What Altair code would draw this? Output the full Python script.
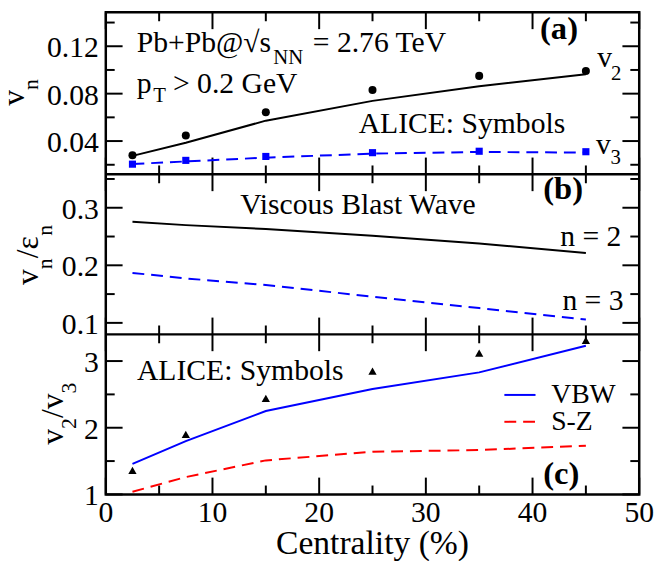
import altair as alt
import pandas as pd

# ---------------- data ----------------
cent = [2.5, 7.5, 15, 25, 35, 45]
alice_v2 = [0.0281, 0.0447, 0.0644, 0.0831, 0.0950, 0.0992]
alice_v3 = [0.0205, 0.0237, 0.0270, 0.0302, 0.0314, 0.0310]
vbw_v2 = [0.0275, 0.0386, 0.0572, 0.0739, 0.0862, 0.0964]
vbw_v3 = [0.0206, 0.0228, 0.0260, 0.0294, 0.0308, 0.0303]
ratio_n2 = [0.2755, 0.2698, 0.2630, 0.2515, 0.2380, 0.2215]
ratio_n3 = [0.1868, 0.1772, 0.1657, 0.1456, 0.1257, 0.1057]
alice_v2v3 = [1.36, 1.90, 2.44, 2.85, 3.12, 3.31]
vbw_v2v3 = [1.458, 1.80, 2.25, 2.58, 2.83, 3.23]
sz_v2v3 = [1.04, 1.26, 1.51, 1.64, 1.665, 1.73]

x_major = [0, 10, 20, 30, 40, 50]
x_minor = [5, 15, 25, 35, 45]
x_labels = ["0", "10", "20", "30", "40", "50"]
a_major = [0.04, 0.08, 0.12]
a_labels = ["0.04", "0.08", "0.12"]
a_minor = [0.02, 0.06, 0.10, 0.14]
b_major = [0.1, 0.2, 0.3]
b_labels = ["0.1", "0.2", "0.3"]
b_minor = [0.15, 0.25, 0.35]
c_major = [1, 2, 3]
c_labels = ["1", "2", "3"]
c_minor = [1.5, 2.5]

# ---------------- layout ----------------
SERIF = "Liberation Serif"
W = 540
HA, HB, HC = 164, 162, 162
H = HA + HB + HC
MAJ, MIN = 17, 9

XD = [0, 50]
AD = [0.0119, 0.1486]
BD = [0.08, 0.358]
CD = [1, 3.4]
xs = alt.Scale(domain=XD, nice=False, zero=False)
sa = alt.Scale(domain=AD, range=[HA, 0], nice=False, zero=False)
sb = alt.Scale(domain=BD, range=[HA + HB, HA], nice=False, zero=False)
sc = alt.Scale(domain=CD, range=[H, HA + HB], nice=False, zero=False)

PX_X = W / (XD[1] - XD[0])
PX_A = HA / (AD[1] - AD[0])
PX_B = HB / (BD[1] - BD[0])
PX_C = HC / (CD[1] - CD[0])

NOX = dict(scale=xs, axis=None)
ONE = pd.DataFrame({"k": [0]})

layers = []

panels = ((a_major, a_minor, a_labels, sa, AD, PX_A),
          (b_major, b_minor, b_labels, sb, BD, PX_B),
          (c_major, c_minor, c_labels, sc, CD, PX_C))

# ---------------- ticks (rules) and y tick labels (text) ----------------
for maj, mnr, labs, scale, dom, ppu in panels:
    # y ticks on the left and right edges
    for vals, L in ((maj, MAJ), (mnr, MIN)):
        dx = L / PX_X
        for a, b in ((XD[0], XD[0] + dx), (XD[1] - dx, XD[1])):
            df = pd.DataFrame({"y": vals, "x1": [a] * len(vals), "x2": [b] * len(vals)})
            layers.append(alt.Chart(df).mark_rule(color="black", strokeWidth=2).encode(
                x=alt.X("x1:Q", **NOX), x2="x2:Q",
                y=alt.Y("y:Q", scale=scale, axis=None)))
    # x ticks on the top and bottom edges
    for vals, L in ((x_major, MAJ), (x_minor, MIN)):
        dy = L / ppu
        for a, b in ((dom[1], dom[1] - dy), (dom[0], dom[0] + dy)):
            df = pd.DataFrame({"x": vals, "y1": [a] * len(vals), "y2": [b] * len(vals)})
            layers.append(alt.Chart(df).mark_rule(color="black", strokeWidth=2).encode(
                x=alt.X("x:Q", **NOX),
                y=alt.Y("y1:Q", scale=scale, axis=None), y2="y2:Q"))
    # tick labels
    layers.append(alt.Chart(pd.DataFrame({"y": maj, "t": labs})).mark_text(
        align="right", baseline="middle", dy=2, font=SERIF, fontSize=30,
        color="black").encode(x=alt.value(-7), y=alt.Y("y:Q", scale=scale, axis=None),
                              text="t:N"))


# ---------------- series ----------------
def series(yvals):
    return pd.DataFrame({"x": cent, "y": yvals})


def line(yvals, scale, color, dash=None):
    kw = dict(color=color, strokeWidth=2)
    if dash:
        kw["strokeDash"] = dash
    return alt.Chart(series(yvals)).mark_line(**kw).encode(
        x=alt.X("x:Q", **NOX), y=alt.Y("y:Q", scale=scale, axis=None))


def points(yvals, scale, shape, color, size):
    return alt.Chart(series(yvals)).mark_point(
        shape=shape, filled=True, size=size, color=color, opacity=1).encode(
        x=alt.X("x:Q", **NOX), y=alt.Y("y:Q", scale=scale, axis=None))


layers += [line(vbw_v2, sa, "black"), points(alice_v2, sa, "circle", "black", 66),
           line(vbw_v3, sa, "blue", [12, 7]), points(alice_v3, sa, "square", "blue", 52)]
layers += [line(ratio_n2, sb, "black"), line(ratio_n3, sb, "blue", [12, 7])]
layers += [line(vbw_v2v3, sc, "blue"), line(sz_v2v3, sc, "red", [12, 7]),
           points(alice_v2v3, sc, "triangle-up", "black", 70)]

# inner frame lines between panels (lower edge of panels a and b)
for v, s in ((AD[0], sa), (BD[0], sb)):
    layers.append(alt.Chart(pd.DataFrame({"v": [v]})).mark_rule(
        color="black", strokeWidth=2.5).encode(y=alt.Y("v:Q", scale=s, axis=None)))

# x tick labels and x title
layers.append(alt.Chart(pd.DataFrame({"x": x_major, "t": x_labels})).mark_text(
    align="center", baseline="alphabetic", font=SERIF, fontSize=30, color="black").encode(
    x=alt.X("x:Q", **NOX), y=alt.value(H + 28), text="t:N"))
layers.append(alt.Chart(pd.DataFrame({"x": [25], "t": ["Centrality (%)"]})).mark_text(
    align="center", baseline="alphabetic", font=SERIF, fontSize=34, color="black").encode(
    x=alt.X("x:Q", **NOX), y=alt.value(H + 60), text="t:N"))


# ---------------- annotations ----------------
def texts(rows, scale, size, bold=False):
    df = pd.DataFrame(rows, columns=["x", "y", "t"])
    return alt.Chart(df).mark_text(
        align="left", baseline="alphabetic", font=SERIF, color="black", fontSize=size,
        fontWeight="bold" if bold else "normal").encode(
        x=alt.X("x:Q", **NOX), y=alt.Y("y:Q", scale=scale, axis=None), text="t:N")


layers.append(texts([
    (2.90, 0.1150, "Pb+Pb@\u221as"),
    (19.40, 0.1150, "= 2.76 TeV"),
    (2.90, 0.0803, "p"),
    (6.30, 0.0803, "> 0.2 GeV"),
    (23.70, 0.0469, "ALICE: Symbols"),
    (46.06, 0.1025, "v"),
    (45.95, 0.0292, "v"),
], sa, 30))
layers.append(texts([
    (15.70, 0.1053, "NN"),
    (4.44, 0.0728, "T"),
    (47.36, 0.0917, "2"),
    (47.31, 0.0208, "3"),
], sa, 21))
layers.append(texts([(40.7, 0.1261, "(a)")], sa, 33, bold=True))

layers.append(texts([
    (12.6, 0.2887, "Viscous Blast Wave"),
    (42.6, 0.2343, "n = 2"),
    (42.8, 0.1228, "n = 3"),
], sb, 30))
layers.append(texts([(41.0, 0.315, "(b)")], sb, 33, bold=True))

layers.append(texts([(2.92, 2.713, "ALICE: Symbols")], sc, 30))
layers.append(texts([(41.75, 2.372, "VBW"), (41.75, 1.973, "S-Z")], sc, 28))
layers.append(texts([(41.0, 1.15, "(c)")], sc, 33, bold=True))

# legend samples in panel (c)
for yv, col, dash in ((2.492, "blue", None), (2.089, "red", [12, 7])):
    kw = dict(color=col, strokeWidth=2)
    if dash:
        kw["strokeDash"] = dash
    layers.append(alt.Chart(pd.DataFrame({"x1": [37.36], "x2": [40.28], "y": [yv]}))
                  .mark_rule(**kw).encode(x=alt.X("x1:Q", **NOX), x2="x2:Q",
                                          y=alt.Y("y:Q", scale=sc, axis=None)))

# rotated y titles with subscripts (one text mark per piece)
EM = {"v": 0.5, "n": 0.5, "2": 0.5, "3": 0.5, "/": 0.278, "\u03b5": 0.439}


def title_pieces(pieces, x0, y0):
    u = y0
    for t, sub in pieces:
        s = 22 if sub else 32
        layers.append(alt.Chart(ONE).mark_text(
            angle=270, align="left", baseline="alphabetic", font=SERIF, color="black",
            fontSize=s, text=t).encode(x=alt.value(x0 + (14 if sub else 0)), y=alt.value(u)))
        u -= EM[t] * s


title_pieces([("v", 0), ("n", 1)], -82.5, 94.5)
title_pieces([("v", 0), ("n", 1), ("/", 0), ("\u03b5", 0), ("n", 1)], -68.7, 276)
title_pieces([("v", 0), ("2", 1), ("/", 0), ("v", 0), ("3", 1)], -43.7, 437.7)

chart = alt.layer(*layers).resolve_scale(y="independent").properties(
    width=W, height=H,
    autosize=alt.AutoSizeParams(type="none"),
    padding={"left": 99, "top": 1, "right": 18, "bottom": 64},
).configure_view(stroke="black", strokeWidth=2.5)

chart.save("out.html", embed_options={"renderer": "svg", "actions": False})
